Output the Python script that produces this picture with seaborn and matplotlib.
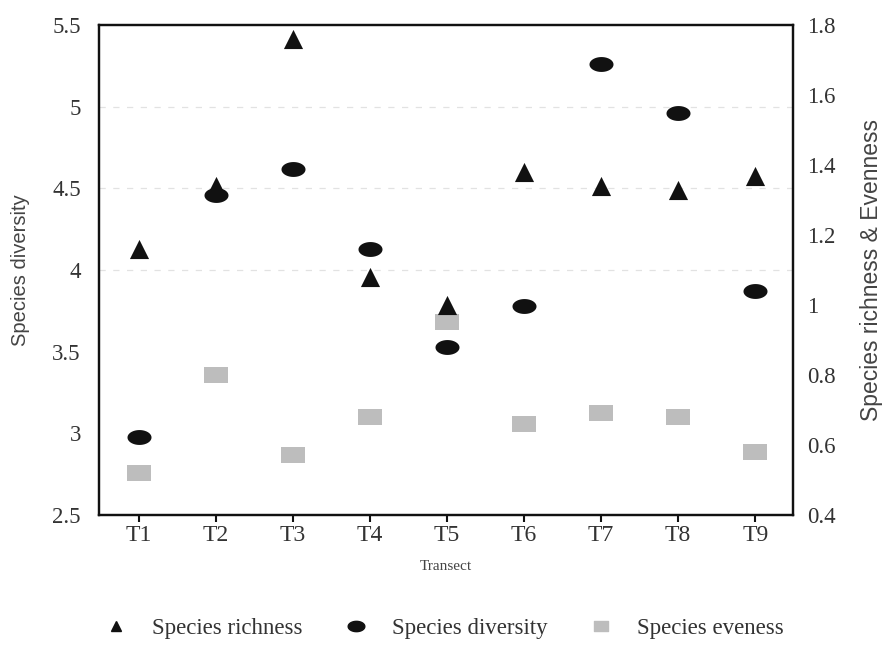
import numpy as np
import pandas as pd
import matplotlib
matplotlib.use("Agg")
import matplotlib.pyplot as plt
from matplotlib.path import Path
from matplotlib.lines import Line2D
import seaborn as sns

transects = ["T1", "T2", "T3", "T4", "T5", "T6", "T7", "T8", "T9"]
diversity = [2.98, 4.46, 4.62, 4.13, 3.53, 3.78, 5.26, 4.96, 3.87]
richness = [1.16, 1.34, 1.76, 1.08, 1.00, 1.38, 1.34, 1.33, 1.37]
evenness = [0.52, 0.80, 0.57, 0.68, 0.95, 0.66, 0.69, 0.68, 0.58]
left_ticks = [2.5, 3, 3.5, 4, 4.5, 5, 5.5]
left_labels = ["2.5", "3", "3.5", "4", "4.5", "5", "5.5"]
right_ticks = [0.4, 0.6, 0.8, 1.0, 1.2, 1.4, 1.6, 1.8]
right_labels = ["0.4", "0.6", "0.8", "1", "1.2", "1.4", "1.6", "1.8"]

df = pd.DataFrame({"Transect": transects, "x": range(len(transects)),
                   "diversity": diversity, "richness": richness, "evenness": evenness})

sns.set_theme(style="white")
plt.rcParams["font.family"] = ["Liberation Serif", "DejaVu Serif"]
sans = ["Liberation Sans", "DejaVu Sans"]

# custom marker shapes
t = np.linspace(0, 2 * np.pi, 40)
ellipse = Path(np.column_stack([1.0 * np.cos(t), 0.62 * np.sin(t)]), closed=True)
rect = Path([(-1, -0.7), (1, -0.7), (1, 0.7), (-1, 0.7), (-1, -0.7)], closed=True)

fig = plt.figure(figsize=(8.83, 6.45), dpi=100)
ax = fig.add_axes([0.112, 0.2016, 0.786, 0.7596])
ax2 = ax.twinx()

sns.scatterplot(data=df, x="x", y="diversity", ax=ax, marker=ellipse, s=300,
                color="#111111", edgecolor="#111111", linewidth=0, zorder=3)
sns.scatterplot(data=df, x="x", y="richness", ax=ax2, marker="^", s=190,
                color="#111111", edgecolor="#111111", linewidth=0, zorder=3)
sns.scatterplot(data=df, x="x", y="evenness", ax=ax2, marker=rect, s=300,
                color="#bdbdbd", edgecolor="#bdbdbd", linewidth=0, zorder=2)

ax.set_xlim(-0.52, 8.49)
ax.set_ylim(2.5, 5.5)
ax2.set_ylim(0.4, 1.8)
for yv in [4.0, 4.5, 5.0]:
    ax.axhline(yv, color="#e2e2e2", lw=0.9, ls=(0, (5, 6)), zorder=0)

ax.set_xticks(range(len(transects)))
ax.set_xticklabels(transects, fontsize=17, color="#333333")
ax.set_yticks(left_ticks)
ax.set_yticklabels(left_labels, fontsize=16.5, color="#333333")
ax2.set_yticks(right_ticks)
ax2.set_yticklabels(right_labels, fontsize=16.5, color="#333333")

ax.tick_params(axis="x", direction="out", length=5, width=1.5, color="#111111", pad=2, bottom=True)
ax.tick_params(axis="y", length=0, pad=13)
ax2.tick_params(axis="y", length=0, pad=10)

ax.set_xlabel("Transect", fontsize=11, color="#444444", labelpad=10)
ax.set_ylabel("Species diversity", fontsize=14.5, color="#444444",
              family=sans, labelpad=16)
ax2.set_ylabel("Species richness & Evenness", fontsize=16.5, color="#444444",
               family=sans, labelpad=18)

for a in (ax, ax2):
    for sp in a.spines.values():
        sp.set_color("#111111")
        sp.set_linewidth(1.6)
    a.grid(False)

handles = [
    Line2D([], [], marker="^", ls="none", color="#111111", markersize=7),
    Line2D([], [], marker=ellipse, ls="none", color="#111111", markersize=12),
    Line2D([], [], marker=rect, ls="none", color="#bdbdbd", markersize=10),
]
fig.legend(handles, ["Species richness", "Species diversity", "Species eveness"],
           loc="center", bbox_to_anchor=(0.503, 0.025), ncol=3, frameon=False,
           fontsize=16.5, handlelength=1.0, handletextpad=1.05, columnspacing=1.85,
           labelcolor="#333333")

fig.savefig("out.png", dpi=100)
